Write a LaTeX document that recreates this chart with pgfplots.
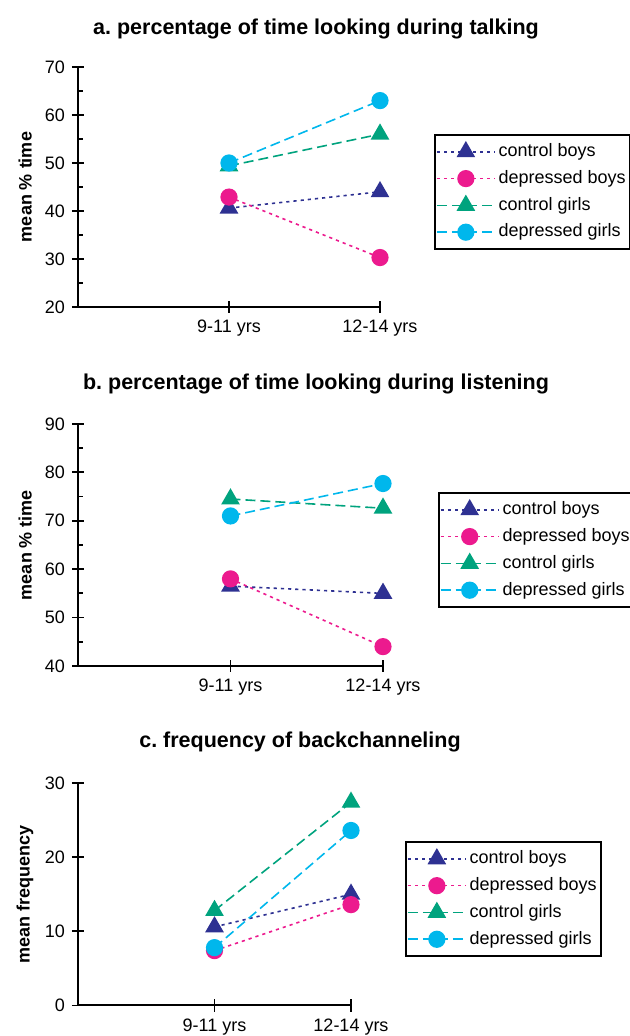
\documentclass[border=0pt]{standalone}
\usepackage{fontspec}
\setmainfont{Liberation Sans}
\usepackage{pgfplots}
\pgfplotsset{compat=1.18}
\frenchspacing

\definecolor{cb}{RGB}{46,49,146}
\definecolor{db}{RGB}{236,26,142}
\definecolor{cg}{RGB}{0,163,126}
\definecolor{dg}{RGB}{0,183,236}

\newcommand{\nfont}{\fontsize{9pt}{10.8pt}\selectfont}

\pgfplotsset{
  panel/.style={
    scale only axis,
    anchor=south west,
    axis lines=left,
    axis line style={-, line width=1pt, black},
    xmin=0, xmax=2,
    xtick={1,2},
    xticklabels={9-11 yrs,12-14 yrs},
    tick align=center,
    major tick length=6pt,
    tick style={line width=0.9pt, black},
    minor tick length=2.5pt,
    minor tick style={xshift=1.25pt},
    tick label style={font=\nfont},
    /pgf/number format/assume math mode=true,
    ylabel style={font=\bfseries\nfont, anchor=center},
    clip=false,
    legend cell align=left,
    legend style={anchor=north west, draw=black, line width=1pt, font=\nfont,
      inner xsep=0.5pt, inner ysep=2.5pt, row sep=1.6pt,
      nodes={inner xsep=1.5pt, inner ysep=1.5pt, text height=6.8pt, text depth=2pt}},
    legend image code/.code={\draw[mark repeat=2,mark phase=2,##1] plot coordinates {(0pt,0pt) (14.5pt,0pt) (29pt,0pt)};},
  },
  cbs/.style={color=cb, line width=0.8pt, dash pattern=on 1.6pt off 2pt, mark=triangle*, mark size=4.6pt, mark options={solid, fill=cb}},
  dbs/.style={color=db, line width=0.8pt, dash pattern=on 1.6pt off 2pt, mark=*, mark size=3.9pt, mark options={solid, fill=db}},
  cgs/.style={color=cg, line width=0.8pt, dash pattern=on 5pt off 2.5pt, mark=triangle*, mark size=4.6pt, mark options={solid, fill=cg}},
  dgs/.style={color=dg, line width=0.8pt, dash pattern=on 5pt off 2.5pt, mark=*, mark size=3.9pt, mark options={solid, fill=dg}},
}

\begin{document}
\begin{tikzpicture}
\useasboundingbox (0,0) rectangle (315pt,518pt);

\node[font=\bfseries\fontsize{10.75pt}{12pt}\selectfont, anchor=base] at (158pt,500.5pt) {a. percentage of time looking during talking};
\node[font=\bfseries\fontsize{10.75pt}{12pt}\selectfont, anchor=base] at (158pt,323pt) {b. percentage of time looking during listening};
\node[font=\bfseries\fontsize{10.75pt}{12pt}\selectfont, anchor=base] at (150pt,144pt) {c. frequency of backchanneling};

% panel a
\begin{axis}[panel, at={(39pt,364.5pt)}, width=151pt, height=120pt,
  ymin=20, ymax=70, ytick={20,30,...,70}, minor ytick={25,35,...,65},
  ylabel={mean \% time},
  ylabel style={at={(axis description cs:-0.175,0.5)}},
  legend style={at={(1.179,0.7208)}}]
\addplot[cbs] coordinates {(1,40.6) (2,44.0)};
\addplot[dbs] coordinates {(1,42.9) (2,30.3)};
\addplot[cgs] coordinates {(1,49.4) (2,56.0)};
\addplot[dgs] coordinates {(1,50.0) (2,63.0)};
\legend{control boys,depressed boys,control girls,depressed girls}
\end{axis}

% panel b
\begin{axis}[panel, at={(39pt,185pt)}, width=152.5pt, height=121pt,
  ymin=40, ymax=90, ytick={40,50,...,90}, minor ytick={45,55,...,85},
  ylabel={mean \% time},
  ylabel style={at={(axis description cs:-0.173,0.5)}},
  legend style={at={(1.180,0.719)}}]
\addplot[cbs] coordinates {(1,56.5) (2,55.0)};
\addplot[dbs] coordinates {(1,58.0) (2,44.0)};
\addplot[cgs] coordinates {(1,74.5) (2,72.6)};
\addplot[dgs] coordinates {(1,71.0) (2,77.7)};
\legend{control boys,depressed boys,control girls,depressed girls}
\end{axis}

% panel c
\begin{axis}[panel, at={(39pt,15.25pt)}, width=136.5pt, height=111.25pt,
  ymin=0, ymax=30, ytick={0,10,20,30},
  ylabel={mean frequency},
  ylabel style={at={(axis description cs:-0.194,0.5)}},
  legend style={at={(1.198,0.739)}}]
\addplot[cbs] coordinates {(1,10.6) (2,15.0)};
\addplot[dbs] coordinates {(1,7.4) (2,13.6)};
\addplot[cgs] coordinates {(1,12.8) (2,27.4)};
\addplot[dgs] coordinates {(1,7.8) (2,23.6)};
\legend{control boys,depressed boys,control girls,depressed girls}
\end{axis}
\end{tikzpicture}
\end{document}
